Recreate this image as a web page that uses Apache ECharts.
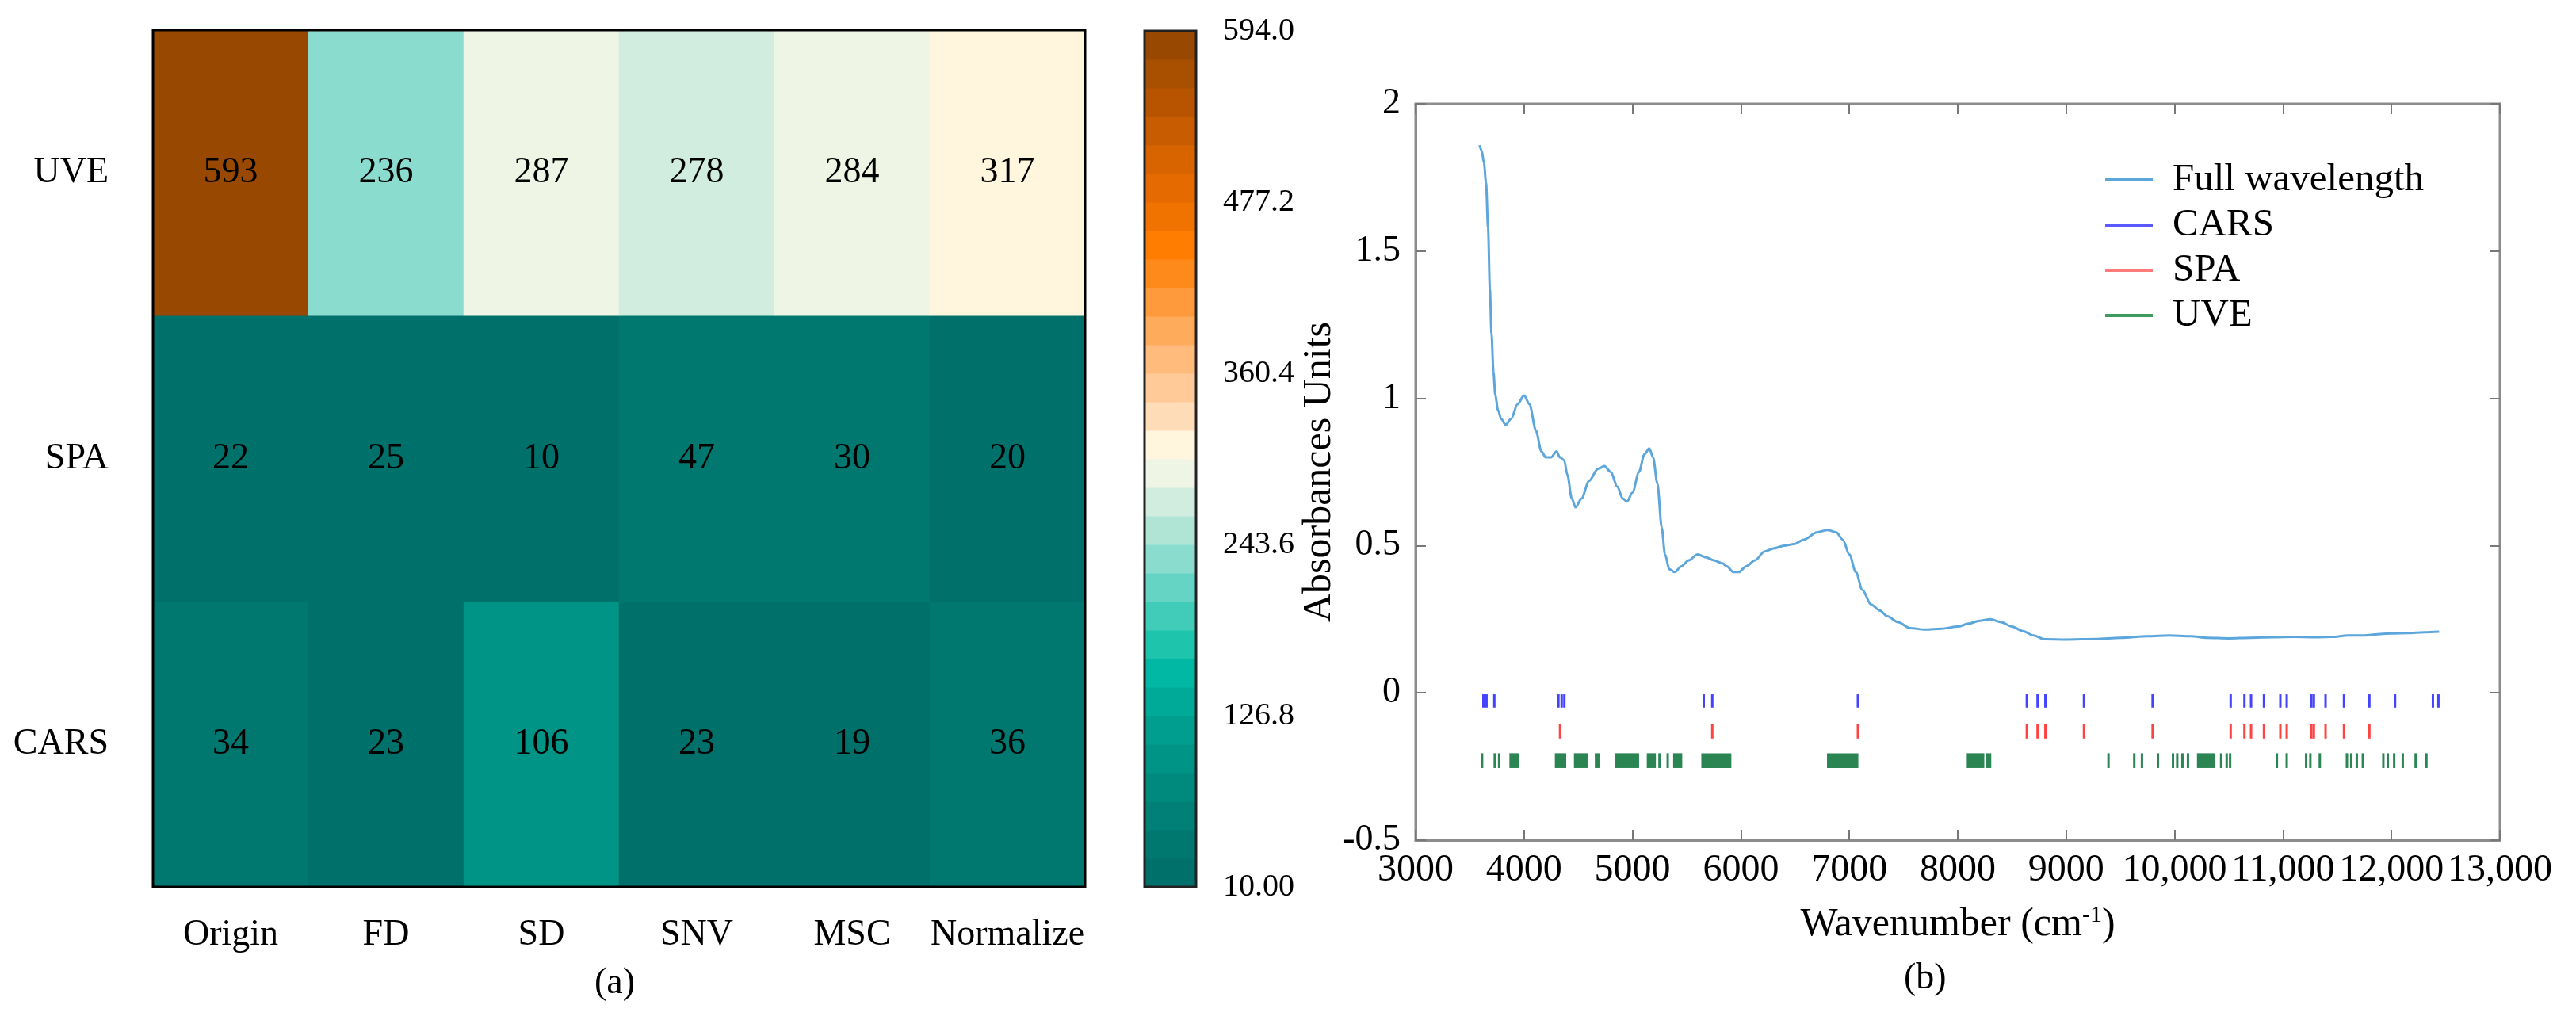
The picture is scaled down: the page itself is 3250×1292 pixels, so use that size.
<!DOCTYPE html>
<html>
<head>
<meta charset="utf-8">
<script src="https://cdn.jsdelivr.net/npm/echarts@6/dist/echarts.min.js"></script>
<style>
html,body{margin:0;padding:0;background:#fff;}
#c{width:3250px;height:1292px;}
</style>
</head>
<body>
<div id="c"></div>
<script>
// ---------- data ----------
const methods = ['Origin', 'FD', 'SD', 'SNV', 'MSC', 'Normalize'];
const selectors = ['CARS', 'SPA', 'UVE'];           // bottom to top
const uveCounts = [593, 236, 287, 278, 284, 317];
const spaCounts = [22, 25, 10, 47, 30, 20];
const carsCounts = [34, 23, 106, 23, 19, 36];

const colorbarTicks = ['10.00', '126.8', '243.6', '360.4', '477.2', '594.0'];
const colorMin = 10, colorMax = 594;
const bandColors = [
  '#00706a', '#007870', '#008076', '#008a7e', '#009486', '#009e8e', '#00aa98', '#00b8a3',
  '#1fc4ad', '#40ccb8', '#66d4c4', '#8adcce', '#b0e5d6', '#d0ede0', '#eef5e4',
  '#fff6dd', '#ffdcb8', '#ffca98', '#ffbb7c', '#ffab5c', '#ff9a3c', '#ff8a1c', '#ff7d00',
  '#f07300', '#e56b00', '#d86400', '#c85c00', '#b85400', '#a84f00', '#984800'
];

const specWn = [3590, 3610, 3630, 3650, 3668, 3685, 3700, 3718, 3735, 3760, 3790, 3830, 3880, 3940, 4000, 4050, 4110, 4160,
  4200, 4250, 4300, 4330, 4370, 4400, 4440, 4475, 4530, 4600, 4680, 4740, 4800, 4860, 4910, 4950, 5000, 5060,
  5110, 5155, 5190, 5230, 5270, 5300, 5340, 5390, 5450, 5520, 5600, 5680, 5750, 5830, 5870, 5930, 5980, 6050,
  6130, 6220, 6300, 6400, 6490, 6580, 6700, 6800, 6880, 6940, 7000, 7060, 7120, 7200, 7280, 7350, 7450, 7560,
  7700, 7850, 8000, 8100, 8200, 8300, 8400, 8500, 8600, 8700, 8800, 9000, 9270, 9500, 9750, 9950, 10150, 10300,
  10500, 10700, 10900, 11100, 11300, 11450, 11600, 11750, 11900, 12000, 12150, 12300, 12440];
const specAbs = [1.86, 1.84, 1.80, 1.73, 1.58, 1.37, 1.22, 1.09, 1.01, 0.96, 0.93, 0.91, 0.93, 0.98, 1.01, 0.98, 0.89, 0.82,
  0.80, 0.80, 0.82, 0.80, 0.79, 0.74, 0.66, 0.63, 0.66, 0.72, 0.76, 0.77, 0.75, 0.70, 0.66, 0.65, 0.68, 0.75,
  0.81, 0.83, 0.80, 0.71, 0.56, 0.47, 0.42, 0.41, 0.43, 0.45, 0.47, 0.46, 0.45, 0.44, 0.43, 0.41, 0.41, 0.43,
  0.45, 0.48, 0.49, 0.50, 0.505, 0.52, 0.545, 0.553, 0.545, 0.52, 0.47, 0.41, 0.35, 0.30, 0.28, 0.26, 0.24, 0.22,
  0.215, 0.218, 0.225, 0.235, 0.245, 0.25, 0.24, 0.225, 0.21, 0.195, 0.182, 0.181, 0.183, 0.187, 0.192, 0.195, 0.192, 0.187,
  0.185, 0.187, 0.189, 0.19, 0.189, 0.19, 0.195, 0.195, 0.2, 0.202, 0.203, 0.206, 0.208];

const carsWn = [3625, 3654, 3726, 4317, 4347, 4372, 5657, 5736, 7079, 8637, 8736, 8808, 9164, 9797, 10517, 10644,
  10705, 10824, 10975, 11034, 11261, 11284, 11392, 11562, 11796, 12033, 12382, 12433];
const spaWn = [4332, 5736, 7079, 8637, 8736, 8808, 9164, 9797, 10517, 10644, 10705, 10824, 10975, 11034, 11261,
  11284, 11392, 11562, 11796];
const uveRanges = [[3613, 3613], [3730, 3740], [3770, 3790], [3865, 3957], [4284, 4389], [4460, 4586], [4653, 4703],
  [4842, 5061], [5132, 5216], [5249, 5249], [5325, 5325], [5375, 5459], [5635, 5912], [6794, 7083], [8083, 8245],
  [8262, 8309], [9390, 9390], [9628, 9628], [9699, 9699], [9846, 9846], [9985, 9985], [10024, 10024], [10072, 10072],
  [10123, 10123], [10206, 10373], [10429, 10429], [10480, 10480], [10512, 10512], [10943, 10943], [11034, 11034],
  [11213, 11213], [11252, 11252], [11339, 11339], [11589, 11589], [11629, 11629], [11680, 11680], [11736, 11736],
  [11925, 11925], [11966, 11966], [12025, 12025], [12104, 12104], [12223, 12223], [12322, 12322]];

const xTickLabels = ['3000', '4000', '5000', '6000', '7000', '8000', '9000', '10,000', '11,000', '12,000', '13,000'];

// ---------- build ----------
const FONT = '"Liberation Serif", "Times New Roman", serif';
const heatData = [];
[carsCounts, spaCounts, uveCounts].forEach((row, yi) => {
  row.forEach((v, xi) => heatData.push([xi, yi, v]));
});
const step = (colorMax - colorMin) / bandColors.length;
const pieces = bandColors.map((c, i) => ({
  gte: colorMin + i * step,
  lt: i === bandColors.length - 1 ? colorMax + 1 : colorMin + (i + 1) * step,
  color: c
}));
const spec = specWn.map((w, i) => [w, specAbs[i]]);

function tickRender(y0, y1, color) {
  return function (params, api) {
    const w = api.value(0);
    const p0 = api.coord([w, y0]);
    const p1 = api.coord([w, y1]);
    return {
      type: 'line',
      shape: { x1: p0[0], y1: p0[1], x2: p1[0], y2: p1[1] },
      style: { stroke: color, lineWidth: 3 }
    };
  };
}

const frameAxisLine = { onZero: false, lineStyle: { color: '#8c8c8c', width: 3 } };
const frameTick = { inside: true, length: 13, lineStyle: { color: '#777', width: 2 } };

const chart = echarts.init(document.getElementById('c'));
chart.setOption({
  animation: false,
  backgroundColor: '#fff',
  textStyle: { fontFamily: FONT },
  grid: [
    { left: 193, top: 38, width: 1176, height: 1081, show: true, borderColor: '#000', borderWidth: 3, backgroundColor: 'transparent', z: 10 },
    { left: 1444, top: 39, width: 65, height: 1080, show: true, borderColor: '#222', borderWidth: 3, z: 10 },
    { left: 1786, top: 131, width: 1368, height: 929, show: true, borderColor: '#8c8c8c', borderWidth: 3 }
  ],
  xAxis: [
    { gridIndex: 0, type: 'category', data: methods,
      axisLine: { show: false }, axisTick: { alignWithLabel: true, interval: 0, length: 18, lineStyle: { color: '#000', width: 3 } },
      axisLabel: { interval: 0, fontFamily: FONT, fontSize: 46, color: '#000', margin: 38 }, splitLine: { show: false } },
    { gridIndex: 1, type: 'value', min: 0, max: 1, show: false },
    { gridIndex: 2, type: 'value', min: 3000, max: 13000, interval: 1000,
      axisLine: frameAxisLine, axisTick: frameTick,
      axisLabel: { fontFamily: FONT, fontSize: 48, color: '#000', margin: 14,
        formatter: v => xTickLabels[Math.round((v - 3000) / 1000)] },
      splitLine: { show: false },
      name: 'Wavenumber (cm{sup|-1})', nameLocation: 'middle', nameGap: 80,
      nameTextStyle: { fontFamily: FONT, fontSize: 50, color: '#000',
        rich: { sup: { fontFamily: FONT, fontSize: 30, verticalAlign: 'top', padding: [0, 0, 24, 0] } } } },
    { gridIndex: 2, type: 'value', min: 3000, max: 13000, interval: 1000, position: 'top',
      axisLine: frameAxisLine, axisTick: frameTick,
      axisLabel: { show: false }, splitLine: { show: false } }
  ],
  yAxis: [
    { gridIndex: 0, type: 'category', data: selectors,
      axisLine: { show: false }, axisTick: { alignWithLabel: true, interval: 0, length: 18, lineStyle: { color: '#000', width: 3 } },
      axisLabel: { interval: 0, fontFamily: FONT, fontSize: 46, color: '#000', margin: 56 }, splitLine: { show: false } },
    { gridIndex: 1, type: 'value', min: 0, max: 30, interval: 6, position: 'right',
      axisLine: { show: false },
      axisTick: { length: 19, lineStyle: { color: '#000', width: 2 } },
      axisLabel: { fontFamily: FONT, fontSize: 40, color: '#000', margin: 34,
        formatter: v => colorbarTicks[Math.round(v / 6)] },
      splitLine: { show: false } },
    { gridIndex: 2, type: 'value', min: -0.5, max: 2, interval: 0.5,
      axisLine: frameAxisLine, axisTick: frameTick,
      axisLabel: { fontFamily: FONT, fontSize: 46, color: '#000', margin: 19 },
      splitLine: { show: false },
      name: 'Absorbances Units', nameLocation: 'middle', nameGap: 82, nameRotate: 90,
      nameTextStyle: { fontFamily: FONT, fontSize: 50, color: '#000' } },
    { gridIndex: 2, type: 'value', min: -0.5, max: 2, interval: 0.5, position: 'right',
      axisLine: frameAxisLine, axisTick: frameTick,
      axisLabel: { show: false }, splitLine: { show: false } }
  ],
  visualMap: {
    type: 'piecewise', show: false, seriesIndex: 0, dimension: 2, pieces: pieces
  },
  legend: {
    orient: 'vertical', left: 2651, top: 197, itemWidth: 60, itemHeight: 4, itemGap: 7,
    icon: 'rect',
    textStyle: { fontFamily: FONT, fontSize: 49, color: '#000', lineHeight: 50, padding: [0, 0, 0, 20] },
    data: ['Full wavelength', 'CARS', 'SPA', 'UVE']
  },
  series: [
    { type: 'heatmap', xAxisIndex: 0, yAxisIndex: 0, data: heatData,
      label: { show: true, fontFamily: FONT, fontSize: 46, color: '#000' },
      itemStyle: { borderWidth: 0 } },
    { type: 'custom', xAxisIndex: 1, yAxisIndex: 1, silent: true,
      data: bandColors.map((c, i) => [i]),
      renderItem: function (params, api) {
        const i = api.value(0);
        const p0 = api.coord([0, i + 1]);
        const p1 = api.coord([1, i]);
        return { type: 'rect', shape: { x: p0[0], y: p0[1], width: p1[0] - p0[0], height: p1[1] - p0[1] + 0.5 },
          style: { fill: bandColors[i] } };
      } },
    { type: 'line', name: 'Full wavelength', xAxisIndex: 2, yAxisIndex: 2, data: spec,
      smooth: 0.3, smoothMonotone: 'x', showSymbol: false,
      lineStyle: { color: '#5ca6dc', width: 3 }, itemStyle: { color: '#5ca6dc' } },
    { type: 'custom', name: 'CARS', xAxisIndex: 2, yAxisIndex: 2, data: carsWn.map(w => [w]),
      itemStyle: { color: '#5a5aff' }, renderItem: tickRender(-0.005, -0.05, 'rgba(20,20,255,0.8)') },
    { type: 'custom', name: 'SPA', xAxisIndex: 2, yAxisIndex: 2, data: spaWn.map(w => [w]),
      itemStyle: { color: '#ff7a7a' }, renderItem: tickRender(-0.105, -0.155, 'rgba(255,20,20,0.8)') },
    { type: 'custom', name: 'UVE', xAxisIndex: 2, yAxisIndex: 2, data: uveRanges,
      itemStyle: { color: '#3f9a5e' },
      renderItem: function (params, api) {
        const a = api.coord([api.value(0), -0.205]);
        const b = api.coord([api.value(1), -0.255]);
        let w = b[0] - a[0];
        let x = a[0];
        if (w < 3) { x = a[0] - 1.5; w = 3; }
        return { type: 'rect', shape: { x: x, y: a[1], width: w, height: b[1] - a[1] },
          style: { fill: '#2a8553' } };
      } }
  ],
  graphic: [
    { type: 'text', left: 750, top: 1218, style: { text: '(a)', fontFamily: FONT, fontSize: 46, fill: '#000' } },
    { type: 'text', left: 2402, top: 1212, style: { text: '(b)', fontFamily: FONT, fontSize: 46, fill: '#000' } }
  ]
});
</script>
</body>
</html>
